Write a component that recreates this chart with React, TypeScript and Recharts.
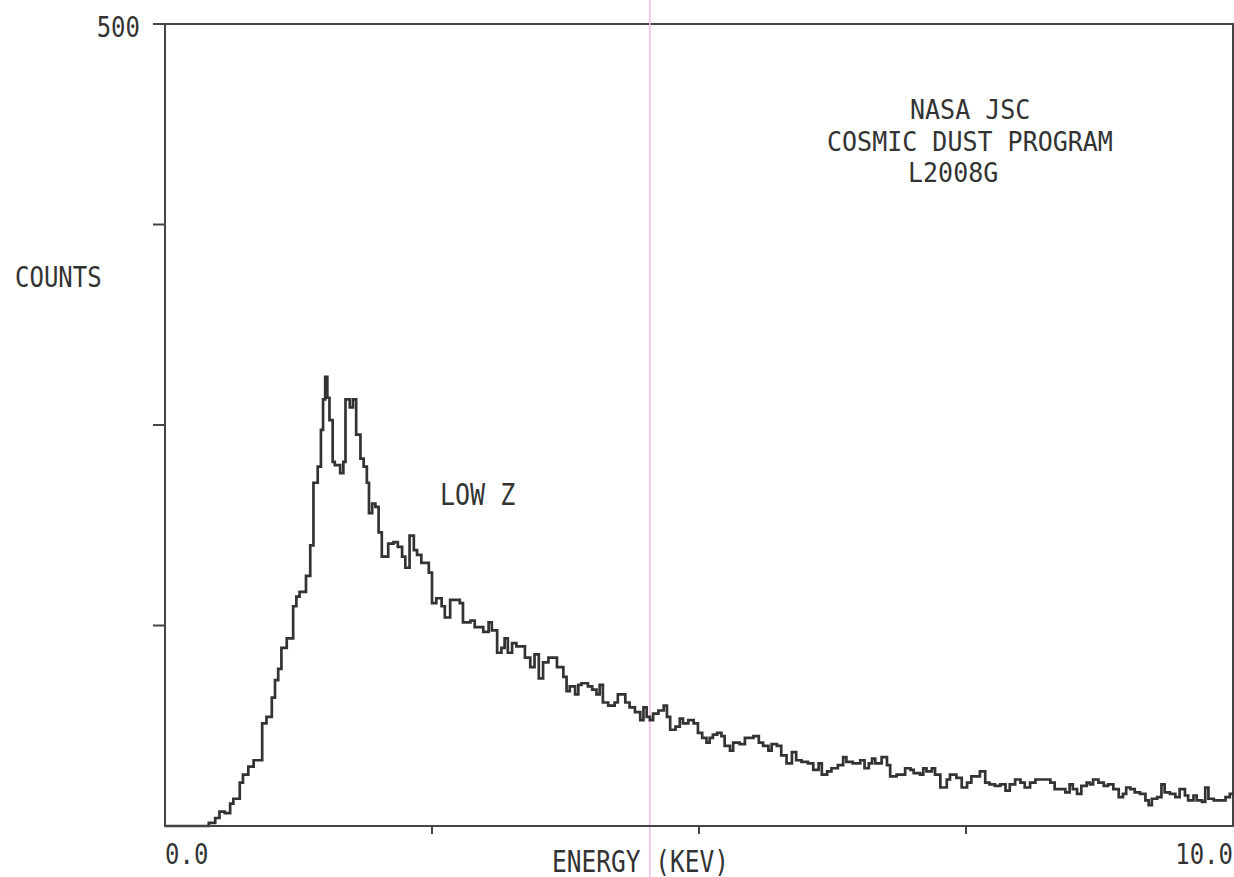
import React from 'react';
import { LineChart, Line, XAxis, YAxis, ReferenceArea, ReferenceLine } from 'recharts';

// Channel start energies (keV) and counts (step histogram)
const energyKeV = [
  0.0, 0.41, 0.47, 0.51, 0.56, 0.61, 0.64, 0.7, 0.73, 0.78, 0.83, 0.91, 0.95, 1.0, 1.03, 1.06, 1.09, 1.14,
  1.2, 1.23, 1.26, 1.32, 1.36, 1.39, 1.43, 1.46, 1.48, 1.5, 1.52, 1.54, 1.57, 1.59, 1.64, 1.67, 1.69, 1.73,
  1.76, 1.79, 1.83, 1.86, 1.89, 1.91, 1.94, 1.97, 2.0, 2.03, 2.09, 2.14, 2.18, 2.22, 2.25, 2.29, 2.33, 2.36,
  2.4, 2.47, 2.5, 2.54, 2.59, 2.62, 2.67, 2.76, 2.79, 2.86, 2.9, 2.98, 3.03, 3.06, 3.11, 3.15, 3.18, 3.21,
  3.25, 3.29, 3.37, 3.42, 3.46, 3.5, 3.54, 3.59, 3.67, 3.73, 3.76, 3.79, 3.84, 3.87, 3.9, 3.96, 4.0, 4.04,
  4.07, 4.1, 4.15, 4.21, 4.24, 4.31, 4.35, 4.4, 4.45, 4.48, 4.51, 4.54, 4.57, 4.62, 4.67, 4.7, 4.73, 4.78,
  4.82, 4.85, 4.9, 4.95, 4.99, 5.03, 5.07, 5.1, 5.13, 5.17, 5.21, 5.24, 5.29, 5.32, 5.38, 5.43, 5.51, 5.56,
  5.6, 5.65, 5.68, 5.73, 5.77, 5.82, 5.87, 5.91, 5.96, 6.02, 6.07, 6.12, 6.15, 6.2, 6.24, 6.3, 6.35, 6.38,
  6.44, 6.51, 6.55, 6.59, 6.62, 6.65, 6.71, 6.76, 6.79, 6.85, 6.93, 6.98, 7.01, 7.07, 7.1, 7.13, 7.18, 7.21,
  7.26, 7.32, 7.35, 7.41, 7.46, 7.51, 7.55, 7.63, 7.68, 7.72, 7.77, 7.82, 7.87, 7.91, 7.96, 8.01, 8.05, 8.1,
  8.15, 8.24, 8.29, 8.33, 8.38, 8.43, 8.47, 8.5, 8.54, 8.58, 8.63, 8.66, 8.69, 8.74, 8.79, 8.83, 8.88, 8.93,
  8.97, 9.0, 9.04, 9.08, 9.13, 9.18, 9.21, 9.24, 9.29, 9.33, 9.36, 9.41, 9.46, 9.5, 9.55, 9.58, 9.63, 9.66,
  9.71, 9.74, 9.77, 9.82, 9.88, 9.93, 9.97, 10.0,
];
const counts = [
  0, 2, 5, 9, 8, 14, 17, 27, 32, 37, 41, 64, 68, 80, 91, 98, 111, 117,
  137, 143, 146, 156, 175, 214, 224, 247, 266, 280, 267, 253, 227, 225, 220, 227, 266, 261,
  266, 244, 229, 224, 214, 195, 201, 199, 183, 168, 176, 177, 174, 168, 161, 181, 172, 169,
  164, 158, 139, 142, 137, 130, 141, 139, 127, 128, 124, 121, 127, 122, 108, 111, 117, 108,
  114, 112, 105, 99, 107, 92, 102, 105, 99, 93, 84, 87, 82, 88, 89, 87, 85, 82,
  88, 77, 75, 77, 82, 77, 74, 71, 66, 74, 68, 66, 70, 72, 75, 68, 60, 62,
  67, 64, 66, 64, 58, 55, 52, 55, 57, 58, 56, 50, 47, 52, 51, 55, 56, 52,
  50, 47, 51, 50, 44, 39, 46, 41, 40, 39, 35, 39, 32, 34, 36, 38, 43, 40,
  39, 41, 36, 39, 42, 39, 43, 38, 31, 32, 36, 35, 33, 32, 36, 34, 36, 32,
  24, 29, 32, 30, 24, 27, 31, 34, 27, 26, 25, 26, 22, 26, 29, 27, 24, 27,
  29, 29, 27, 23, 23, 21, 26, 23, 20, 25, 27, 26, 29, 27, 25, 26, 23, 18,
  20, 24, 23, 21, 20, 16, 13, 17, 18, 26, 21, 20, 18, 23, 19, 16, 19, 16,
  15, 24, 17, 16, 16, 18, 20, 20,
];

const xTicks = [0, 2.5, 5, 7.5, 10];
const yTicks = [125, 250, 375, 500];
const xTickLabels: Record<string, string> = { '0': '0.0', '10': '10.0' };
const yTickLabels: Record<string, string> = { '500': '500' };
const titleLines = ['NASA JSC', 'COSMIC DUST PROGRAM', 'L2008G'];
const xAxisTitle = 'ENERGY (KEV)';
const yAxisTitle = 'COUNTS';
const peakNote = 'LOW Z';
const scanLineKeV = 4.54;

const data = energyKeV.map((e, i) => ({ e, c: counts[i] }));

const INK = '#333333';
const AXIS = '#444444';
const FONT = '"DejaVu Sans Mono", "Liberation Mono", monospace';

function PlotText({ x, yc, text, anchor = 'start', size = 24, sy = 1.2 }: any) {
  const base = yc + 0.3645 * size * sy;
  return (
    <text
      transform={`translate(${x},${base}) scale(1,${sy})`}
      x={0}
      y={0}
      textAnchor={anchor}
      fontFamily={FONT}
      fontSize={size}
      fill={INK}
    >
      {text}
    </text>
  );
}

const XTick = (props: any) => {
  const { x, y, payload } = props;
  const label = xTickLabels[String(payload.value)];
  return (
    <g>
      {label === undefined && (
        <line x1={x} x2={x} y1={y - 8} y2={y} stroke={AXIS} strokeWidth={2} />
      )}
      {label !== undefined && (
        <PlotText x={x} yc={y + 20} text={label} anchor={payload.value === 0 ? 'start' : 'end'} />
      )}
    </g>
  );
};

const YTick = (props: any) => {
  const { x, y, payload } = props;
  const label = yTickLabels[String(payload.value)];
  if (!label) return <g />;
  return <PlotText x={x} yc={y + 3} text={label} anchor="end" />;
};

export default function App() {
  return (
    <div style={{ position: 'absolute', left: 0, top: 0, width: 1234, height: 877, background: '#fff' }}>
      <LineChart width={1234} height={877} data={data} margin={{ top: 24, right: 1, bottom: 0, left: 0 }}>
        <XAxis
          dataKey="e"
          type="number"
          domain={[0, 10]}
          ticks={xTicks}
          interval={0}
          height={51}
          tickSize={8}
          tickMargin={0}
          tickLine={false}
          axisLine={{ stroke: AXIS, strokeWidth: 2 }}
          tick={<XTick />}
        />
        <YAxis
          type="number"
          domain={[0, 500]}
          ticks={yTicks}
          interval={0}
          width={165}
          tickSize={12}
          tickMargin={13}
          tickLine={{ stroke: AXIS, strokeWidth: 2 }}
          axisLine={{ stroke: AXIS, strokeWidth: 2 }}
          tick={<YTick />}
        />
        <ReferenceArea x1={0} x2={10} y1={0} y2={500} fill="none" stroke={AXIS} strokeWidth={2} ifOverflow="visible" />
        <ReferenceLine
          segment={[{ x: scanLineKeV, y: -32 }, { x: scanLineKeV, y: 515 }]}
          stroke="#f3bdea"
          strokeWidth={1.5}
          ifOverflow="visible"
        />
        <Line
          dataKey="c"
          type="stepAfter"
          stroke={INK}
          strokeWidth={2.7}
          dot={false}
          isAnimationActive={false}
        />
      </LineChart>
      <svg width={1234} height={877} style={{ position: 'absolute', left: 0, top: 0, pointerEvents: 'none' }}>
        <PlotText x={15} yc={277} text={yAxisTitle} />
        <PlotText x={552} yc={861} text={xAxisTitle} size={24.5} />
        <PlotText x={440} yc={494} text={peakNote} size={25} />
        <PlotText x={910} yc={110} text={titleLines[0]} size={25} sy={1.04} />
        <PlotText x={827} yc={142} text={titleLines[1]} size={25} sy={1.04} />
        <PlotText x={908} yc={173} text={titleLines[2]} size={25} sy={1.04} />
      </svg>
    </div>
  );
}
